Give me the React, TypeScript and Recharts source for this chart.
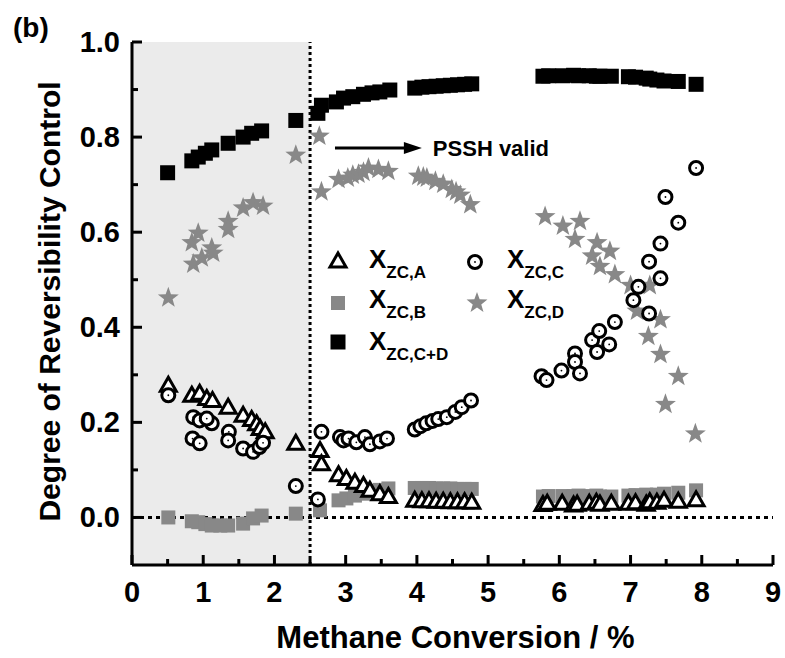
import React from 'react';
import { ScatterChart, Scatter, XAxis, YAxis, ReferenceArea, ReferenceLine } from 'recharts';

const FONT = '"Liberation Sans", Arial, Helvetica, sans-serif';

// axis ticks
const xTicks = [0, 0.5, 1, 1.5, 2, 2.5, 3, 3.5, 4, 4.5, 5, 5.5, 6, 6.5, 7, 7.5, 8, 8.5, 9];
const xLabels = [0, 1, 2, 3, 4, 5, 6, 7, 8, 9];
const yTicks = [0, 0.1, 0.2, 0.3, 0.4, 0.5, 0.6, 0.7, 0.8, 0.9, 1.0];
const yLabels = [0, 0.2, 0.4, 0.6, 0.8, 1.0];

// [methane conversion %, degree of reversibility control]
const xzcA: [number, number][] = [
  [0.51, 0.278], [0.84, 0.257], [0.95, 0.261], [1.05, 0.25], [1.13, 0.246], [1.35, 0.232],
  [1.56, 0.215], [1.68, 0.206], [1.75, 0.197], [1.8, 0.187], [1.87, 0.18], [2.3, 0.156],
  [2.64, 0.141], [2.66, 0.113], [2.9, 0.09], [3.01, 0.082], [3.13, 0.074], [3.25, 0.067],
  [3.34, 0.057], [3.48, 0.05], [3.6, 0.044],
  [3.97, 0.036], [4.07, 0.035], [4.17, 0.035], [4.27, 0.034], [4.37, 0.034], [4.47, 0.033],
  [4.57, 0.033], [4.67, 0.033], [4.77, 0.032],
  [5.77, 0.027], [5.83, 0.03], [6.04, 0.03], [6.2, 0.026], [6.25, 0.028], [6.42, 0.03],
  [6.52, 0.032], [6.57, 0.028], [6.73, 0.03], [6.97, 0.03], [7.07, 0.031], [7.22, 0.028],
  [7.27, 0.033], [7.37, 0.032], [7.47, 0.036], [7.67, 0.034], [7.92, 0.037],
];

const xzcB: [number, number][] = [
  [0.51, 0.0], [0.84, -0.008], [0.93, -0.01], [1.03, -0.014], [1.12, -0.017], [1.24, -0.017],
  [1.35, -0.017], [1.56, -0.013], [1.7, -0.002], [1.82, 0.004], [2.3, 0.008],
  [2.64, 0.015], [2.9, 0.036], [3.01, 0.04], [3.13, 0.046], [3.25, 0.05], [3.37, 0.055],
  [3.48, 0.058], [3.6, 0.061],
  [3.97, 0.062], [4.07, 0.062], [4.17, 0.062], [4.27, 0.061], [4.37, 0.061], [4.47, 0.061],
  [4.57, 0.06], [4.67, 0.06], [4.77, 0.06],
  [5.77, 0.044], [5.85, 0.045], [6.05, 0.045], [6.2, 0.045], [6.27, 0.046], [6.42, 0.045],
  [6.52, 0.046], [6.57, 0.044], [6.73, 0.044], [6.97, 0.046], [7.07, 0.047], [7.22, 0.048],
  [7.27, 0.047], [7.37, 0.048], [7.47, 0.05], [7.67, 0.052], [7.92, 0.057],
];

const xzcC: [number, number][] = [
  [0.51, 0.257], [0.86, 0.211], [0.95, 0.204], [1.12, 0.198], [1.05, 0.208], [0.85, 0.166],
  [0.95, 0.156], [1.36, 0.18], [1.35, 0.162], [1.56, 0.145], [1.7, 0.138], [1.79, 0.148],
  [1.84, 0.157], [2.3, 0.066],
  [2.61, 0.038], [2.66, 0.18], [2.92, 0.169], [2.97, 0.162], [3.04, 0.166], [3.15, 0.158],
  [3.27, 0.169], [3.34, 0.154], [3.48, 0.16], [3.58, 0.166],
  [3.97, 0.185], [4.05, 0.192], [4.13, 0.198], [4.22, 0.203], [4.3, 0.207], [4.42, 0.211],
  [4.54, 0.222], [4.63, 0.232], [4.76, 0.246],
  [5.75, 0.297], [5.82, 0.289], [6.03, 0.309], [6.22, 0.345], [6.22, 0.327], [6.29, 0.303],
  [6.46, 0.373], [6.56, 0.392], [6.53, 0.348], [6.7, 0.364], [6.78, 0.411], [7.04, 0.457],
  [7.11, 0.485], [7.26, 0.429], [7.26, 0.538], [7.42, 0.503], [7.42, 0.576], [7.67, 0.62],
  [7.49, 0.674], [7.92, 0.735],
];

const xzcD: [number, number][] = [
  [0.51, 0.464], [0.84, 0.58], [0.86, 0.535], [0.93, 0.6], [0.98, 0.548], [1.12, 0.569],
  [1.14, 0.558], [1.35, 0.625], [1.35, 0.608], [1.56, 0.653], [1.7, 0.664], [1.84, 0.657],
  [2.3, 0.764],
  [2.63, 0.804], [2.66, 0.687], [2.9, 0.713], [3.03, 0.716], [3.1, 0.722], [3.18, 0.724],
  [3.25, 0.728], [3.32, 0.737], [3.46, 0.734], [3.6, 0.73],
  [4.02, 0.72], [4.09, 0.718], [4.14, 0.716], [4.26, 0.709], [4.37, 0.703], [4.49, 0.692],
  [4.55, 0.687], [4.61, 0.68], [4.75, 0.66],
  [5.8, 0.635], [6.05, 0.615], [6.22, 0.587], [6.29, 0.625], [6.46, 0.552], [6.53, 0.58],
  [6.57, 0.53], [6.71, 0.562], [6.78, 0.513], [7.0, 0.49], [7.09, 0.436], [7.27, 0.49],
  [7.25, 0.383], [7.42, 0.418], [7.42, 0.345], [7.67, 0.299], [7.49, 0.24], [7.91, 0.178],
];

const xzcCD: [number, number][] = [
  [0.5, 0.725], [0.84, 0.75], [0.93, 0.758], [1.03, 0.766], [1.12, 0.773], [1.35, 0.787],
  [1.56, 0.8], [1.68, 0.808], [1.82, 0.813], [2.3, 0.835],
  [2.61, 0.85], [2.66, 0.867], [2.87, 0.874], [2.97, 0.882], [3.1, 0.885], [3.25, 0.89],
  [3.37, 0.893], [3.48, 0.895], [3.62, 0.899],
  [3.97, 0.903], [4.07, 0.905], [4.17, 0.906], [4.27, 0.907], [4.37, 0.908], [4.47, 0.909],
  [4.57, 0.91], [4.67, 0.911], [4.77, 0.912],
  [5.77, 0.928], [5.85, 0.929], [6.05, 0.929], [6.2, 0.93], [6.27, 0.929], [6.42, 0.929],
  [6.52, 0.928], [6.57, 0.928], [6.73, 0.928], [6.97, 0.927], [7.07, 0.926], [7.22, 0.924],
  [7.27, 0.922], [7.37, 0.92], [7.47, 0.918], [7.67, 0.917], [7.92, 0.911],
];

const toPoints = (arr: [number, number][]) => arr.map(([x, y]) => ({ x, y }));

const isOn = (list: number[], v: number) => list.some((m) => Math.abs(m - v) < 1e-6);

// markers
const Triangle = ({ cx, cy }: any) => (
  <polygon points={`${cx},${cy - 8} ${cx - 8},${cy + 6} ${cx + 8},${cy + 6}`} fill="#fff" stroke="#000" strokeWidth={3} strokeLinejoin="miter" />
);
const Ring = ({ cx, cy }: any) => (
  <g>
    <circle cx={cx} cy={cy} r={6.5} fill="#fff" stroke="#000" strokeWidth={3} />
    <circle cx={cx} cy={cy} r={0.9} fill="#000" />
  </g>
);
const GraySquare = ({ cx, cy }: any) => <rect x={cx - 7} y={cy - 7} width={14} height={14} fill="#888" />;
const BlackSquare = ({ cx, cy }: any) => <rect x={cx - 7.5} y={cy - 7.5} width={15} height={15} fill="#000" />;
const starPath = (cx: number, cy: number, ro: number, ri: number) => {
  const pts: string[] = [];
  for (let i = 0; i < 10; i++) {
    const r = i % 2 === 0 ? ro : ri;
    const a = -Math.PI / 2 + (i * Math.PI) / 5;
    pts.push(`${cx + r * Math.cos(a)},${cy + r * Math.sin(a)}`);
  }
  return pts.join(' ');
};
const Star = ({ cx, cy }: any) => <polygon points={starPath(cx, cy + 1, 11, 4.5)} fill="#888" />;

// ticks (drawn inward, labels outside)
const BottomTick = (p: any) => {
  const v = p.payload.value;
  const major = isOn(xLabels, v);
  return (
    <g>
      <line x1={p.x} x2={p.x} y1={p.y} y2={p.y - (major ? 10 : 6)} stroke="#000" strokeWidth={3} />
      {major && (
        <text x={p.x} y={p.y + 37} textAnchor="middle" fontSize={29} fontWeight="bold" fontFamily={FONT} fill="#000">
          {v}
        </text>
      )}
    </g>
  );
};
const TopTick = (p: any) => {
  const major = isOn(xLabels, p.payload.value);
  return <line x1={p.x} x2={p.x} y1={p.y} y2={p.y + (major ? 10 : 6)} stroke="#000" strokeWidth={3} />;
};
const LeftTick = (p: any) => {
  const v = p.payload.value;
  const major = isOn(yLabels, v);
  return (
    <g>
      <line x1={p.x} x2={p.x + (major ? 10 : 6)} y1={p.y} y2={p.y} stroke="#000" strokeWidth={3} />
      {major && (
        <text x={p.x - 12} y={p.y + 10} textAnchor="end" fontSize={29} fontWeight="bold" fontFamily={FONT} fill="#000">
          {v.toFixed(1)}
        </text>
      )}
    </g>
  );
};
const RightTick = (p: any) => {
  const major = isOn(yLabels, p.payload.value);
  return <line x1={p.x} x2={p.x - (major ? 10 : 6)} y1={p.y} y2={p.y} stroke="#000" strokeWidth={3} />;
};

const Arrow = (p: any) => {
  const { x1, y1, x2, y2 } = p;
  return (
    <g>
      <line x1={x1} y1={y1} x2={x2 - 12} y2={y2} stroke="#000" strokeWidth={3} />
      <polygon points={`${x2},${y2} ${x2 - 18},${y2 - 6} ${x2 - 18},${y2 + 6}`} fill="#000" />
      <text x={x2 + 11} y={y2 + 8} fontSize={22} fontWeight="bold" fontFamily={FONT} fill="#000">
        PSSH valid
      </text>
    </g>
  );
};

const XTitle = ({ viewBox }: any) => (
  <text x={viewBox.x + viewBox.width / 2 + 3} y={viewBox.y + 83} textAnchor="middle" fontSize={31} fontWeight="bold" fontFamily={FONT} fill="#000">
    Methane Conversion / %
  </text>
);
const YTitle = ({ viewBox }: any) => {
  const x = viewBox.x + 60;
  const y = viewBox.y + viewBox.height / 2 - 2;
  return (
    <text x={x} y={y} transform={`rotate(-90, ${x}, ${y})`} textAnchor="middle" fontSize={30} fontWeight="bold" fontFamily={FONT} fill="#000">
      Degree of Reversibility Control
    </text>
  );
};

const LegendOverlay = () => {
  const txt = { fontFamily: FONT, fontWeight: 'bold' as const, fill: '#000' };
  const entry = (x: number, y: number, sub: string) => (
    <text x={x} y={y} fontSize={26} {...txt}>
      X<tspan fontSize={17} dy={10}>{sub}</tspan>
    </text>
  );
  return (
    <svg width={785} height={658} style={{ position: 'absolute', left: 0, top: 0, pointerEvents: 'none' }}>
      <text x={13} y={37} fontSize={28} {...txt}>(b)</text>
      <Triangle cx={338} cy={261} />
      {entry(369, 268, 'ZC,A')}
      <GraySquare cx={338} cy={303} />
      {entry(369, 308, 'ZC,B')}
      <BlackSquare cx={338} cy={342} />
      {entry(369, 350, 'ZC,C+D')}
      <Ring cx={475} cy={262} />
      {entry(507, 268, 'ZC,C')}
      <Star cx={477} cy={302} />
      {entry(507, 308, 'ZC,D')}
    </svg>
  );
};

export default function App() {
  return (
    <div style={{ position: 'absolute', left: 0, top: 0, width: 785, height: 658, background: '#fff' }}>
      <ScatterChart width={785} height={658} margin={{ top: 42, right: 12, bottom: 0, left: 0 }}>
        <XAxis
          type="number"
          dataKey="x"
          domain={[0, 9]}
          ticks={xTicks}
          interval={0}
          height={93}
          tickSize={0}
          tickMargin={0}
          tickLine={false}
          axisLine={{ stroke: '#000', strokeWidth: 3 }}
          tick={BottomTick}
          label={{ content: XTitle }}
        />
        <XAxis
          xAxisId="top"
          orientation="top"
          type="number"
          dataKey="x"
          domain={[0, 9]}
          ticks={xTicks}
          interval={0}
          height={0}
          tickSize={0}
          tickMargin={0}
          tickLine={false}
          axisLine={{ stroke: '#000', strokeWidth: 3 }}
          tick={TopTick}
        />
        <YAxis
          type="number"
          dataKey="y"
          domain={[-0.1, 1.0]}
          ticks={yTicks}
          interval={0}
          width={132}
          tickSize={0}
          tickMargin={0}
          tickLine={false}
          axisLine={{ stroke: '#000', strokeWidth: 3 }}
          tick={LeftTick}
          label={{ content: YTitle }}
        />
        <YAxis
          yAxisId="right"
          orientation="right"
          type="number"
          dataKey="y"
          domain={[-0.1, 1.0]}
          ticks={yTicks}
          interval={0}
          width={0}
          tickSize={0}
          tickMargin={0}
          tickLine={false}
          axisLine={{ stroke: '#000', strokeWidth: 3 }}
          tick={RightTick}
        />
        <ReferenceLine y={0} stroke="#000" strokeWidth={3} strokeDasharray="4 4" />
        <Scatter name="XZC,B" data={toPoints(xzcB)} shape={GraySquare} isAnimationActive={false} />
        <Scatter name="XZC,D" data={toPoints(xzcD)} shape={Star} isAnimationActive={false} />
        <Scatter name="XZC,C+D" data={toPoints(xzcCD)} shape={BlackSquare} isAnimationActive={false} />
        <Scatter name="XZC,A" data={toPoints(xzcA)} shape={Triangle} isAnimationActive={false} />
        <Scatter name="XZC,C" data={toPoints(xzcC)} shape={Ring} isAnimationActive={false} />
        <ReferenceArea x1={0} x2={2.5} y1={-0.1} y2={1.0} fill="#b7b7b7" fillOpacity={0.28} stroke="none" />
        <ReferenceLine x={2.5} stroke="#000" strokeWidth={3} strokeDasharray="3 3" />
        <ReferenceLine
          segment={[{ x: 2.85, y: 0.777 }, { x: 4.07, y: 0.777 }]}
          shape={Arrow}
        />
      </ScatterChart>
      <LegendOverlay />
    </div>
  );
}
